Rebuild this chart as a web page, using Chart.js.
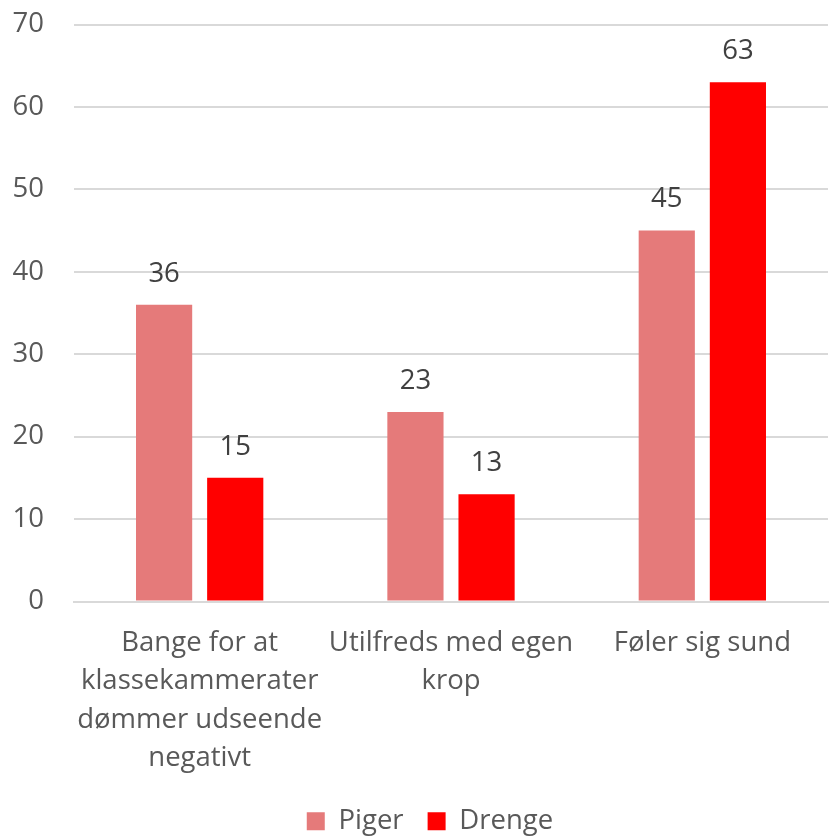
<!DOCTYPE html>
<html>
<head>
<meta charset="utf-8">
<script src="https://cdn.jsdelivr.net/npm/chart.js@4"></script>
<style>
  html, body { margin: 0; padding: 0; background: #fff; }
  #wrap { width: 830px; height: 836px; overflow: hidden; position: relative; }
  #c { position: absolute; left: 0; top: -22px; }
</style>
</head>
<body>
<div id="wrap"><canvas id="c" width="830" height="867"></canvas></div>
<script>
// Data
const categories = [
  ['Bange for at', 'klassekammerater', 'dømmer udseende', 'negativt'],
  ['Utilfreds med egen', 'krop'],
  ['Føler sig sund']
];
const seriesNames = ['Piger', 'Drenge'];
const pigerValues = [36, 23, 45];
const drengeValues = [15, 13, 63];
const yTicks = [0, 10, 20, 30, 40, 50, 60, 70];

const FONT = "'Open Sans', 'Noto Sans', sans-serif";
const FS = 27.5;

// simple value labels above bars
const valueLabels = {
  id: 'valueLabels',
  afterDatasetsDraw(chart) {
    const ctx = chart.ctx;
    ctx.save();
    ctx.font = `${FS}px ${FONT}`;
    ctx.fillStyle = '#404040';
    ctx.textAlign = 'center';
    ctx.textBaseline = 'middle';
    chart.data.datasets.forEach((ds, i) => {
      chart.getDatasetMeta(i).data.forEach((bar, j) => {
        ctx.fillText(String(ds.data[j]), bar.x, bar.y - 31);
      });
    });
    ctx.restore();
  }
};

// legend in the original sits a little right of the canvas centre
const legendShift = {
  id: 'legendShift',
  afterLayout(chart) {
    if (!chart.legend) return;
    chart.legend.left += 16;
    chart.legend.right += 16;
  }
};

new Chart(document.getElementById('c'), {
  type: 'bar',
  data: {
    labels: categories,
    datasets: [
      { label: seriesNames[0], data: pigerValues, backgroundColor: '#E57A7A' },
      { label: seriesNames[1], data: drengeValues, backgroundColor: '#FF0000' }
    ]
  },
  options: {
    responsive: false,
    animation: false,
    layout: { padding: { top: 0, right: 2, bottom: 0, left: 0 } },
    datasets: { bar: { categoryPercentage: 0.566, barPercentage: 0.79 } },
    plugins: {
      legend: {
        position: 'bottom',
        labels: {
          color: '#595959',
          font: { family: FONT, size: FS },
          boxWidth: 18,
          boxHeight: 18,
          padding: 24
        }
      },
      tooltip: { enabled: false }
    },
    scales: {
      x: {
        afterFit: (axis) => { axis.height = 182; },
        grid: { display: false, drawTicks: false },
        border: { color: '#D9D9D9', width: 2 },
        ticks: {
          color: '#595959',
          font: { family: FONT, size: FS, lineHeight: 1.4 },
          padding: 22,
          maxRotation: 0,
          autoSkip: false
        }
      },
      y: {
        min: 0,
        max: 70,
        afterBuildTicks: (axis) => { axis.ticks = yTicks.map(v => ({ value: v })); },
        afterFit: (axis) => { axis.width = 74; },
        grid: { color: '#D9D9D9', lineWidth: 2, drawTicks: false },
        border: { display: false },
        ticks: {
          color: '#595959',
          font: { family: FONT, size: FS },
          padding: 30
        }
      }
    }
  },
  plugins: [valueLabels, legendShift]
});
</script>
</body>
</html>
